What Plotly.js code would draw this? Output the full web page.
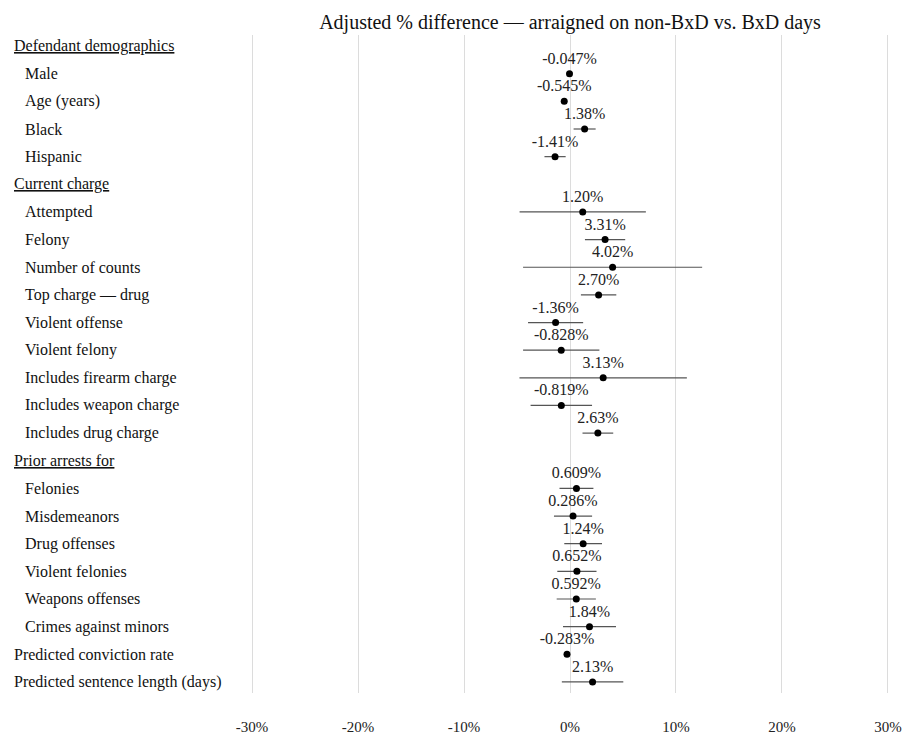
<!DOCTYPE html>
<html>
<head>
<meta charset="utf-8">
<script src="https://cdn.plot.ly/plotly-3.0.1.min.js"></script>
<style>html,body{margin:0;padding:0;background:#fff;}#chart{width:904px;height:735px;}</style>
</head>
<body>
<div id="chart"></div>
<script>
// Row labels (headers have isHeader = true and no estimate)
const rowLabels = [
  "Defendant demographics", "Male", "Age (years)", "Black", "Hispanic",
  "Current charge", "Attempted", "Felony", "Number of counts", "Top charge — drug",
  "Violent offense", "Violent felony", "Includes firearm charge", "Includes weapon charge", "Includes drug charge",
  "Prior arrests for", "Felonies", "Misdemeanors", "Drug offenses", "Violent felonies",
  "Weapons offenses", "Crimes against minors", "Predicted conviction rate", "Predicted sentence length (days)"
];
const isHeader = [
  true, false, false, false, false,
  true, false, false, false, false,
  false, false, false, false, false,
  true, false, false, false, false,
  false, false, false, false
];
const isIndented = [
  false, true, true, true, true,
  false, true, true, true, true,
  true, true, true, true, true,
  false, true, true, true, true,
  true, true, false, false
];
// Estimates (% difference); null for header rows
const estimates = [
  null, -0.047, -0.545, 1.38, -1.41,
  null, 1.20, 3.31, 4.02, 2.70,
  -1.36, -0.828, 3.13, -0.819, 2.63,
  null, 0.609, 0.286, 1.24, 0.652,
  0.592, 1.84, -0.283, 2.13
];
// Half-width of the confidence interval (percentage points)
const ciHalf = [
  null, 0.15, 0.15, 1.04, 1.0,
  null, 5.96, 1.9, 8.45, 1.67,
  2.6, 3.6, 7.9, 2.9, 1.45,
  null, 1.6, 1.8, 1.78, 1.85,
  1.85, 2.5, 0.15, 2.9
];
const estimateLabels = [
  "", "-0.047%", "-0.545%", "1.38%", "-1.41%",
  "", "1.20%", "3.31%", "4.02%", "2.70%",
  "-1.36%", "-0.828%", "3.13%", "-0.819%", "2.63%",
  "", "0.609%", "0.286%", "1.24%", "0.652%",
  "0.592%", "1.84%", "-0.283%", "2.13%"
];
const xTickVals = [-30, -20, -10, 0, 10, 20, 30];
const xTickText = ["-30%", "-20%", "-10%", "0%", "10%", "20%", "30%"];

const FONT = "Liberation Serif, Times New Roman, serif";
const rowIdx = rowLabels.map((_, i) => i);

const pointTrace = {
  type: "scatter",
  mode: "markers",
  x: estimates,
  y: rowIdx,
  marker: {color: "#000", size: 7},
  error_x: {type: "data", array: ciHalf, symmetric: true, color: "#555", thickness: 1.2, width: 0},
  hoverinfo: "skip",
  cliponaxis: false,
  showlegend: false
};
const labelTrace = {
  type: "scatter",
  mode: "markers+text",
  x: estimates,
  y: rowIdx,
  text: estimateLabels,
  textposition: "top center",
  textfont: {family: FONT, size: 16, color: "#222"},
  marker: {color: "rgba(0,0,0,0)", size: 8},
  hoverinfo: "skip",
  cliponaxis: false,
  showlegend: false
};

const annotations = rowLabels.map((lab, i) => ({
  xref: "paper", yref: "y",
  x: 0, y: i,
  xanchor: "left", yanchor: "middle",
  xshift: isIndented[i] ? -227 : -238,
  text: isHeader[i] ? "<u>" + lab + "</u>" : lab,
  showarrow: false,
  font: {family: FONT, size: 16, color: "#111"}
}));

const layout = {
  width: 904, height: 735,
  margin: {l: 250, r: 14, t: 35, b: 42},
  paper_bgcolor: "#fff", plot_bgcolor: "#fff",
  title: {
    text: "Adjusted % difference — arraigned on non-BxD vs. BxD days",
    font: {family: FONT, size: 20, color: "#111"},
    x: 0.5, xref: "paper", xanchor: "center",
    y: 1 - 22/735, yref: "container", yanchor: "middle"
  },
  xaxis: {
    range: [-30.2, 30.2],
    tickvals: xTickVals, ticktext: xTickText,
    showgrid: true, gridcolor: "#dcdcdc", gridwidth: 1,
    zeroline: false, showline: false,
    ticks: "outside", ticklen: 20, tickcolor: "rgba(0,0,0,0)",
    tickfont: {family: FONT, size: 15, color: "#222"},
    fixedrange: true
  },
  yaxis: {
    range: [23.4, -0.4],
    showticklabels: false, showgrid: false, zeroline: false, ticks: "",
    fixedrange: true
  },
  annotations: annotations
};

Plotly.newPlot("chart", [pointTrace, labelTrace], layout, {staticPlot: true, displayModeBar: false});
</script>
</body>
</html>
